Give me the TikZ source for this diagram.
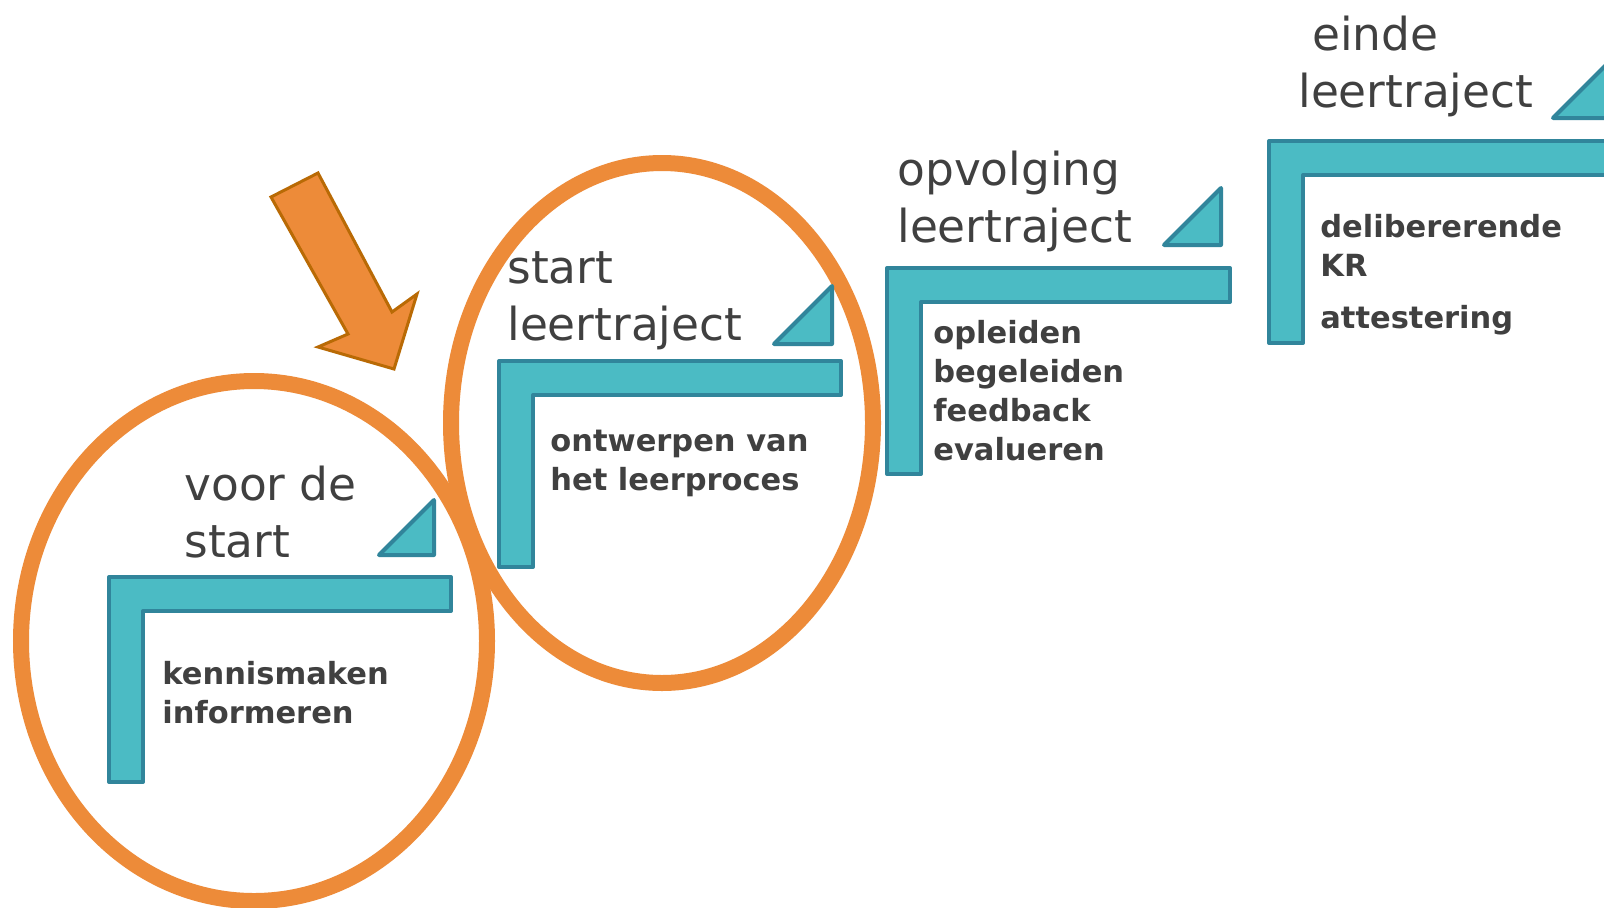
\documentclass[tikz,border=0pt]{standalone}
\usepackage{fontspec}
\setmainfont{DejaVu Sans}
\definecolor{stairfill}{HTML}{4BBBC4}
\definecolor{stairline}{HTML}{31859B}
\definecolor{ringorange}{HTML}{ED8B39}
\definecolor{arrowline}{HTML}{B96A05}
\definecolor{textgray}{HTML}{404040}
\tikzset{
  stair/.style={fill=stairfill,draw=stairline,line width=2bp,line join=round},
  ring/.style={draw=ringorange,line width=8bp},
  title/.style={anchor=base west,align=left,text=textgray,font=\fontsize{22.8}{28.5}\selectfont},
  body/.style={anchor=base west,align=left,text=textgray,font=\bfseries\fontsize{15.3}{19.5}\selectfont}
}
\begin{document}
\begin{tikzpicture}[x=0.5bp,y=-0.5bp,inner sep=0pt]
\useasboundingbox (0,0) rectangle (1604,907);
\fill[white] (0,0) rectangle (1604,907);
\draw[ring] (254,641) ellipse [x radius=233,y radius=260];
\draw[ring] (662,423) ellipse [x radius=211,y radius=260];
\draw[fill=ringorange,draw=arrowline,line width=1.5bp] (271,197) -- (318,173) -- (392,312) -- (417,294) -- (394,369) -- (318,347) -- (348,334) -- cycle;
\draw[stair] ( 109,577) -- ( 451,577) -- ( 451,611) -- ( 143,611) -- ( 143,782) -- ( 109,782) -- cycle;
\draw[stair] ( 499,361) -- ( 841,361) -- ( 841,395) -- ( 533,395) -- ( 533,567) -- ( 499,567) -- cycle;
\draw[stair] ( 887,268) -- (1230,268) -- (1230,302) -- ( 921,302) -- ( 921,474) -- ( 887,474) -- cycle;
\draw[stair] (1269,141) -- (1640,141) -- (1640,175) -- (1303,175) -- (1303,343) -- (1269,343) -- cycle;
\draw[stair] ( 379,555) -- ( 434,500) -- ( 434,555) -- cycle;
\draw[stair] ( 774,344) -- ( 832,286) -- ( 832,344) -- cycle;
\draw[stair] (1164,245) -- (1221,188) -- (1221,245) -- cycle;
\draw[stair] (1553,118) -- (1612, 59) -- (1612,118) -- cycle;
\node[title] (voorstart)  at ( 184,557) {voor de\\start};
\node[title] (startleer)  at ( 507,340) {start\\leertraject};
\node[title] (opvolging)  at ( 897,242) {opvolging\\leertraject};
\node[title] (eindeleer)  at (1298,107) {\hspace{7bp}einde\\leertraject};
\node[body] (kennis)      at ( 162,723) {kennismaken\\informeren};
\node[body] (ontwerpen)   at ( 550,490) {ontwerpen van\\het leerproces};
\node[body] (opleiden)    at ( 933,460) {opleiden\\begeleiden\\feedback\\evalueren};
\node[body] (delibereren) at (1320,328) {delibererende\\KR\\[6.5bp]attestering};
\end{tikzpicture}
\end{document}
